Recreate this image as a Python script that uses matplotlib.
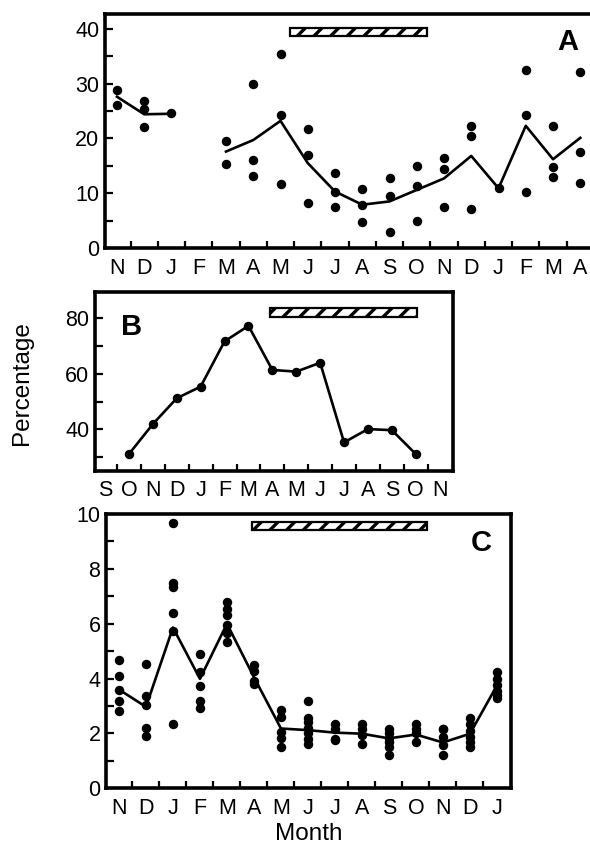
import numpy as np
import matplotlib
matplotlib.use("Agg")
import matplotlib.pyplot as plt
from matplotlib.patches import Rectangle
from matplotlib.ticker import FixedLocator

plt.rcParams['font.family'] = ['Liberation Sans', 'DejaVu Sans']
plt.rcParams['hatch.linewidth'] = 2.4

# ---- Panel A data ----
months_a = ["N", "D", "J", "F", "M", "A", "M", "J", "J", "A", "S", "O", "N", "D", "J", "F", "M", "A"]
mean_a = [27.6, 24.4, 24.5, np.nan, 17.6, 19.7, 23.2, 15.5, 10.3, 7.9, 8.5, 10.6,
          12.7, 16.8, 10.9, 22.3, 16.2, 20.1]
pts_a = [[28.9, 26.1], [26.9, 25.4, 22.0], [24.7], [], [19.6, 15.4], [30.0, 16.1, 13.2],
         [35.4, 24.3, 11.6], [21.7, 16.9, 8.3], [13.6, 10.3, 7.4], [10.7, 7.9, 4.8],
         [12.8, 9.5, 3.0], [14.9, 11.4, 5.0], [16.5, 14.4, 7.5], [22.3, 20.5, 7.1],
         [10.9], [32.5, 24.2, 10.3], [22.2, 14.7, 13.0], [32.2, 17.5, 11.9]]
bar_a = (6.35, 11.37, 38.6, 40.1)

# ---- Panel B data ----
months_b = ["S", "O", "N", "D", "J", "F", "M", "A", "M", "J", "J", "A", "S", "O", "N"]
idx_b = list(range(1, 14))
vals_b = [31.1, 41.9, 51.2, 55.4, 71.7, 77.3, 61.4, 60.8, 64.0, 35.3, 40.1, 39.7, 31.1]
bar_b = (6.9, 13.07, 80.4, 83.6)

# ---- Panel C data ----
months_c = ["N", "D", "J", "F", "M", "A", "M", "J", "J", "A", "S", "O", "N", "D", "J"]
mean_c = [3.6, 2.97, 5.86, 3.99, 6.0, 4.05, 2.18, 2.12, 2.03, 1.99, 1.82, 1.96, 1.67, 1.99, 3.75]
pts_c = [[4.67, 4.09, 3.6, 3.18, 2.83], [4.53, 3.36, 3.05, 2.21, 1.91],
         [9.67, 7.5, 7.34, 6.4, 5.73, 2.33], [4.89, 4.23, 3.72, 3.17, 2.91],
         [6.78, 6.52, 6.31, 5.94, 5.67, 5.34], [4.49, 4.29, 3.93, 3.81],
         [2.85, 2.6, 2.06, 1.85, 1.52], [3.2, 2.55, 2.4, 2.2, 2.0, 1.8, 1.6],
         [2.36, 2.18, 1.78, 1.76], [2.36, 2.18, 1.94, 1.61],
         [2.18, 2.0, 1.82, 1.7, 1.5, 1.22], [2.33, 2.18, 2.03, 1.7],
         [2.18, 2.16, 1.88, 1.58, 1.22], [2.55, 2.33, 2.09, 1.88, 1.7, 1.49],
         [4.25, 3.99, 3.75, 3.53, 3.4, 3.29]]
bar_c = (4.91, 11.42, 9.43, 9.7)

W, H = 590, 846
fig = plt.figure(figsize=(W / 100, H / 100), dpi=100)


def px_axes(left, top, right, bottom):
    return fig.add_axes([left / W, 1 - bottom / H, (right - left) / W, (bottom - top) / H])


def style_axes(ax, labels, yticks, ylabels, yminor):
    for s in ax.spines.values():
        s.set_linewidth(2.6)
    n = len(labels)
    ax.set_xticks(range(n))
    ax.set_xticklabels(labels)
    ax.xaxis.set_minor_locator(FixedLocator(np.arange(n - 1) + 0.5))
    ax.tick_params(axis='x', which='major', length=0, pad=7, labelsize=15.5)
    ax.tick_params(axis='x', which='minor', direction='in', length=5, width=1.6)
    ax.set_yticks(yticks)
    ax.set_yticklabels(ylabels)
    ax.yaxis.set_minor_locator(FixedLocator(yminor))
    ax.tick_params(axis='y', which='both', direction='in', length=6, width=1.6, pad=4, labelsize=15.5)


def hatch_bar(ax, b):
    ax.add_patch(Rectangle((b[0], b[2]), b[1] - b[0], b[3] - b[2], facecolor='white',
                           edgecolor='black', hatch='//', lw=1.6, zorder=3))


# ---- Panel A ----
ax1 = px_axes(105, 14, 592, 248)
for i, vals in enumerate(pts_a):
    ax1.plot([i] * len(vals), vals, 'o', color='black', ms=5.8)
ax1.plot(range(len(mean_a)), mean_a, color='black', lw=1.9)
hatch_bar(ax1, bar_a)
ax1.set_xlim(-0.44, 17.43)
ax1.set_ylim(0, 42.7)
style_axes(ax1, months_a, [0, 10, 20, 30, 40], ["0", "10", "20", "30", "40"], [5, 15, 25, 35])
ax1.spines['right'].set_visible(False)
fig.text(568 / W, 1 - 42 / H, "A", ha='center', va='center', fontsize=21, fontweight='bold')

# ---- Panel B ----
ax2 = px_axes(95, 291.7, 453.3, 470.7)
ax2.plot(idx_b, vals_b, '-o', color='black', ms=5.8, lw=1.9)
hatch_bar(ax2, bar_b)
ax2.set_xlim(-0.42, 14.57)
ax2.set_ylim(25.1, 89.6)
style_axes(ax2, months_b, [40, 60, 80], ["40", "60", "80"], [30, 50, 70])
fig.text(131.7 / W, 1 - 326.7 / H, "B", ha='center', va='center', fontsize=21, fontweight='bold')

# ---- Panel C ----
ax3 = px_axes(106, 514, 511, 788.3)
for i, vals in enumerate(pts_c):
    ax3.plot([i] * len(vals), vals, 'o', color='black', ms=5.8)
ax3.plot(range(len(mean_c)), mean_c, color='black', lw=1.9)
hatch_bar(ax3, bar_c)
ax3.set_xlim(-0.48, 14.52)
ax3.set_ylim(0, 10)
style_axes(ax3, months_c, [0, 2, 4, 6, 8, 10], ["0", "2", "4", "6", "8", "10"], [1, 3, 5, 7, 9])
ax3.set_xlabel("Month", fontsize=17.5, labelpad=3)
fig.text(481.7 / W, 1 - 543.3 / H, "C", ha='center', va='center', fontsize=21, fontweight='bold')

fig.text(22 / W, 1 - 383 / H, "Percentage", rotation=90, ha='center', va='center', fontsize=17.5)

fig.savefig("out.png", dpi=100)
